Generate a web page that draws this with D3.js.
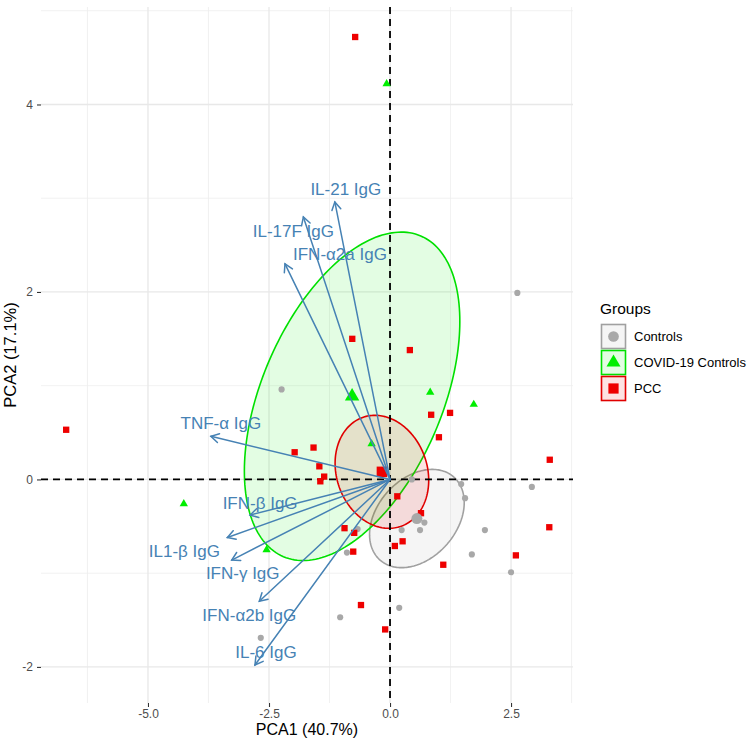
<!DOCTYPE html>
<html><head><meta charset="utf-8">
<script src="https://cdn.jsdelivr.net/npm/d3@7"></script>
<style>body{margin:0;background:#fff} svg{display:block;font-family:"Liberation Sans",Arial,Helvetica,sans-serif}</style>
</head><body><svg id="c" width="752" height="738"></svg>
<script>
// ---------------- data ----------------
const groups = ["Controls", "COVID-19 Controls", "PCC"];

const controlsX = [2.63, -2.24, 1.47, 1.55, 2.93, 0.71, 0.62, 0.24, 1.96, 1.69, -0.89, -0.67, -1.03, -2.67, 0.19, 2.50, 0.45];
const controlsY = [1.99, 0.96, -0.05, -0.20, -0.08, -0.46, -0.54, -0.54, -0.54, -0.80, -0.78, -0.53, -1.47, -1.69, -1.37, -0.99, 0.00];

const covidX = [-0.07, 0.83, 1.73, -0.38, -4.26, -2.55];
const covidY = [4.22, 0.93, 0.80, 0.38, -0.26, -0.75];

const pccX = [-0.72, -6.69, -0.78, 0.41, 0.85, 1.24, 1.01, 3.30, -1.58, -1.46, -1.36, -1.44, 0.15, 0.64, 3.29, -0.94, -0.74, 0.10, 0.26, -0.76, 2.60, -0.60, -0.10, -1.97, 1.10];
const pccY = [4.72, 0.53, 1.50, 1.38, 0.69, 0.71, 0.45, 0.21, 0.34, 0.14, 0.03, -0.02, -0.18, -0.36, -0.51, -0.52, -0.57, -0.71, -0.66, -0.77, -0.81, -1.34, -1.60, 0.29, -0.91];

const varNames = ["IL-21 IgG", "IL-17F IgG", "IFN-α2a IgG", "TNF-α IgG", "IFN-β IgG", "IL1-β IgG", "IFN-γ IgG", "IFN-α2b IgG", "IL-6 IgG"];
const loadX = [-1.14, -1.79, -2.17, -3.70, -2.89, -3.36, -3.27, -2.70, -2.79];
const loadY = [2.96, 2.80, 2.30, 0.46, -0.38, -0.62, -0.86, -1.30, -1.98];

const xTicks = [-5, -2.5, 0, 2.5];
const xTickLabels = ["-5.0", "-2.5", "0.0", "2.5"];
const yTicks = [-2, 0, 2, 4];
const yTickLabels = ["-2", "0", "2", "4"];
const xTitle = "PCA1 (40.7%)";
const yTitle = "PCA2 (17.1%)";
const legendTitle = "Groups";

// ---------------- layout / style ----------------
const W = 752, H = 738;
const P = {l: 41, r: 573, t: 7, b: 703};
const colors = {"Controls": "#A8A8A8", "COVID-19 Controls": "#00EE00", "PCC": "#EE0000"};
const ellipseStroke = {"Controls": "#A0A0A0", "COVID-19 Controls": "#00E000", "PCC": "#E00000"};
const arrowColor = "#4682B4";
// label placement (repelled text), pixel offsets of text centre from arrow tip
const labelOffsets = [[11, -13], [-10, 14], [55, -10], [10, -13], [10, -12], [-43, 13], [11, 13], [-10, 14], [11, -13]];

const svg = d3.select("#c");
const x = d3.scaleLinear().domain([-7.21, 3.78]).range([P.l, P.r]);
const y = d3.scaleLinear().domain([-2.385, 5.04]).range([P.b, P.t]);

// grid
const gGrid = svg.append("g");
const xMinor = d3.range(-6.25, 3.8, 2.5);
const yMinor = [-1, 1, 3, 5];
gGrid.selectAll(".xm").data(xMinor).join("line")
  .attr("x1", d => x(d)).attr("x2", d => x(d)).attr("y1", P.t).attr("y2", P.b)
  .attr("stroke", "#EDEDED").attr("stroke-width", 0.8);
gGrid.selectAll(".ym").data(yMinor).join("line")
  .attr("y1", d => y(d)).attr("y2", d => y(d)).attr("x1", P.l).attr("x2", P.r)
  .attr("stroke", "#EDEDED").attr("stroke-width", 0.8);
gGrid.selectAll(".xM").data(xTicks).join("line")
  .attr("x1", d => x(d)).attr("x2", d => x(d)).attr("y1", P.t).attr("y2", P.b)
  .attr("stroke", "#E8E8E8").attr("stroke-width", 1.3);
gGrid.selectAll(".yM").data(yTicks).join("line")
  .attr("y1", d => y(d)).attr("y2", d => y(d)).attr("x1", P.l).attr("x2", P.r)
  .attr("stroke", "#E8E8E8").attr("stroke-width", 1.3);

// axes
const xAxis = d3.axisBottom(x).tickValues(xTicks).tickFormat((d, i) => xTickLabels[i]).tickSize(4).tickPadding(2);
const gx = svg.append("g").attr("transform", `translate(0,${P.b})`).call(xAxis);
gx.select(".domain").remove();
gx.selectAll("line").attr("stroke", "#333").attr("stroke-width", 1.1);
gx.selectAll("text").attr("fill", "#4D4D4D").style("font-size", "12px").style("font-family", "Liberation Sans, Arial, sans-serif");

const yAxis = d3.axisLeft(y).tickValues(yTicks).tickFormat((d, i) => yTickLabels[i]).tickSize(4).tickPadding(4);
const gy = svg.append("g").attr("transform", `translate(${P.l},0)`).call(yAxis);
gy.select(".domain").remove();
gy.selectAll("line").attr("stroke", "#333").attr("stroke-width", 1.1);
gy.selectAll("text").attr("fill", "#4D4D4D").style("font-size", "12px").style("font-family", "Liberation Sans, Arial, sans-serif");

svg.append("text").attr("x", (P.l + P.r) / 2).attr("y", 735).attr("text-anchor", "middle")
  .style("font-size", "16px").attr("fill", "#000").text(xTitle);
svg.append("text").attr("transform", `translate(15.5,${(P.t + P.b) / 2}) rotate(-90)`).attr("text-anchor", "middle")
  .style("font-size", "16.5px").attr("fill", "#000").text(yTitle);

// group data
const gdata = [
  {name: groups[0], xs: controlsX, ys: controlsY, shape: d3.symbolCircle, size: 30, msize: 95},
  {name: groups[1], xs: covidX, ys: covidY, shape: d3.symbolTriangle, size: 30, msize: 90},
  {name: groups[2], xs: pccX, ys: pccY, shape: d3.symbolSquare, size: 40, msize: 110}
];

// confidence ellipses of barycentres (chi-square 2 df, 95%)
const chi2 = -2 * Math.log(0.05);
function ellipsePts(xs, ys) {
  const n = xs.length, mx = d3.mean(xs), my = d3.mean(ys);
  let sxx = 0, syy = 0, sxy = 0;
  for (let i = 0; i < n; i++) { const dx = xs[i] - mx, dy = ys[i] - my; sxx += dx * dx; syy += dy * dy; sxy += dx * dy; }
  const c = chi2 / n / (n - 1);
  const a = sxx * c, b = sxy * c, d = syy * c;
  const L11 = Math.sqrt(a), L21 = b / L11, L22 = Math.sqrt(d - L21 * L21);
  return d3.range(0, 201).map(k => { const t = k / 200 * 2 * Math.PI; return [mx + L11 * Math.cos(t), my + L21 * Math.cos(t) + L22 * Math.sin(t)]; });
}
const line = d3.line().x(d => x(d[0])).y(d => y(d[1]));
const gEll = svg.append("g");
gdata.forEach(g => {
  gEll.append("path").attr("d", line(ellipsePts(g.xs, g.ys)) + "Z")
    .attr("fill", colors[g.name]).attr("fill-opacity", 0.11)
    .attr("stroke", ellipseStroke[g.name]).attr("stroke-width", 1.6);
});

// reference dashed lines
svg.append("line").attr("x1", P.l).attr("x2", P.r).attr("y1", y(0)).attr("y2", y(0))
  .attr("stroke", "#000").attr("stroke-width", 1.8).attr("stroke-dasharray", "7,5");
svg.append("line").attr("x1", x(0)).attr("x2", x(0)).attr("y1", P.t).attr("y2", P.b)
  .attr("stroke", "#000").attr("stroke-width", 1.8).attr("stroke-dasharray", "7,5");

// points
const gPts = svg.append("g");
gdata.forEach(g => {
  const sym = d3.symbol().type(g.shape).size(g.size);
  gPts.selectAll(null).data(g.xs.map((v, i) => [v, g.ys[i]])).join("path")
    .attr("d", sym).attr("transform", d => `translate(${x(d[0])},${y(d[1])})`)
    .attr("fill", colors[g.name]);
});
// mean points
gdata.forEach(g => {
  const sym = d3.symbol().type(g.shape).size(g.msize);
  gPts.append("path").attr("d", sym)
    .attr("transform", `translate(${x(d3.mean(g.xs))},${y(d3.mean(g.ys))})`)
    .attr("fill", colors[g.name]);
});

// variable arrows
const gArr = svg.append("g").attr("stroke", arrowColor).attr("stroke-width", 1.5).attr("fill", "none").attr("stroke-linecap", "round");
varNames.forEach((nm, i) => {
  const x0 = x(0), y0 = y(0), x1 = x(loadX[i]), y1 = y(loadY[i]);
  gArr.append("line").attr("x1", x0).attr("y1", y0).attr("x2", x1).attr("y2", y1);
  const ang = Math.atan2(y1 - y0, x1 - x0), L = 9, h = Math.PI / 6;
  const p1 = [x1 - L * Math.cos(ang - h), y1 - L * Math.sin(ang - h)];
  const p2 = [x1 - L * Math.cos(ang + h), y1 - L * Math.sin(ang + h)];
  gArr.append("path").attr("d", `M${p1[0]},${p1[1]}L${x1},${y1}L${p2[0]},${p2[1]}`);
  svg.append("text").attr("x", x1 + labelOffsets[i][0]).attr("y", y1 + labelOffsets[i][1]).attr("dy", "0.36em")
    .attr("text-anchor", "middle").attr("fill", arrowColor).style("font-size", "17px").text(nm);
});

// legend
const gl = svg.append("g");
gl.append("text").attr("x", 600).attr("y", 314).style("font-size", "15.5px").attr("fill", "#000").text(legendTitle);
gdata.forEach((g, i) => {
  const ky = 324 + i * 26;
  gl.append("rect").attr("x", 601.5).attr("y", ky + 0.5).attr("width", 24).attr("height", 24)
    .attr("fill", colors[g.name]).attr("fill-opacity", 0.11)
    .attr("stroke", ellipseStroke[g.name]).attr("stroke-width", 1.6);
  gl.append("path").attr("d", d3.symbol().type(g.shape).size(g.msize * 0.95))
    .attr("transform", `translate(613.5,${ky + 12.5})`).attr("fill", colors[g.name]);
  gl.append("text").attr("x", 634).attr("y", ky + 12.5).attr("dy", "0.36em")
    .style("font-size", "13px").attr("fill", "#000").text(g.name);
});
</script>
</body></html>
